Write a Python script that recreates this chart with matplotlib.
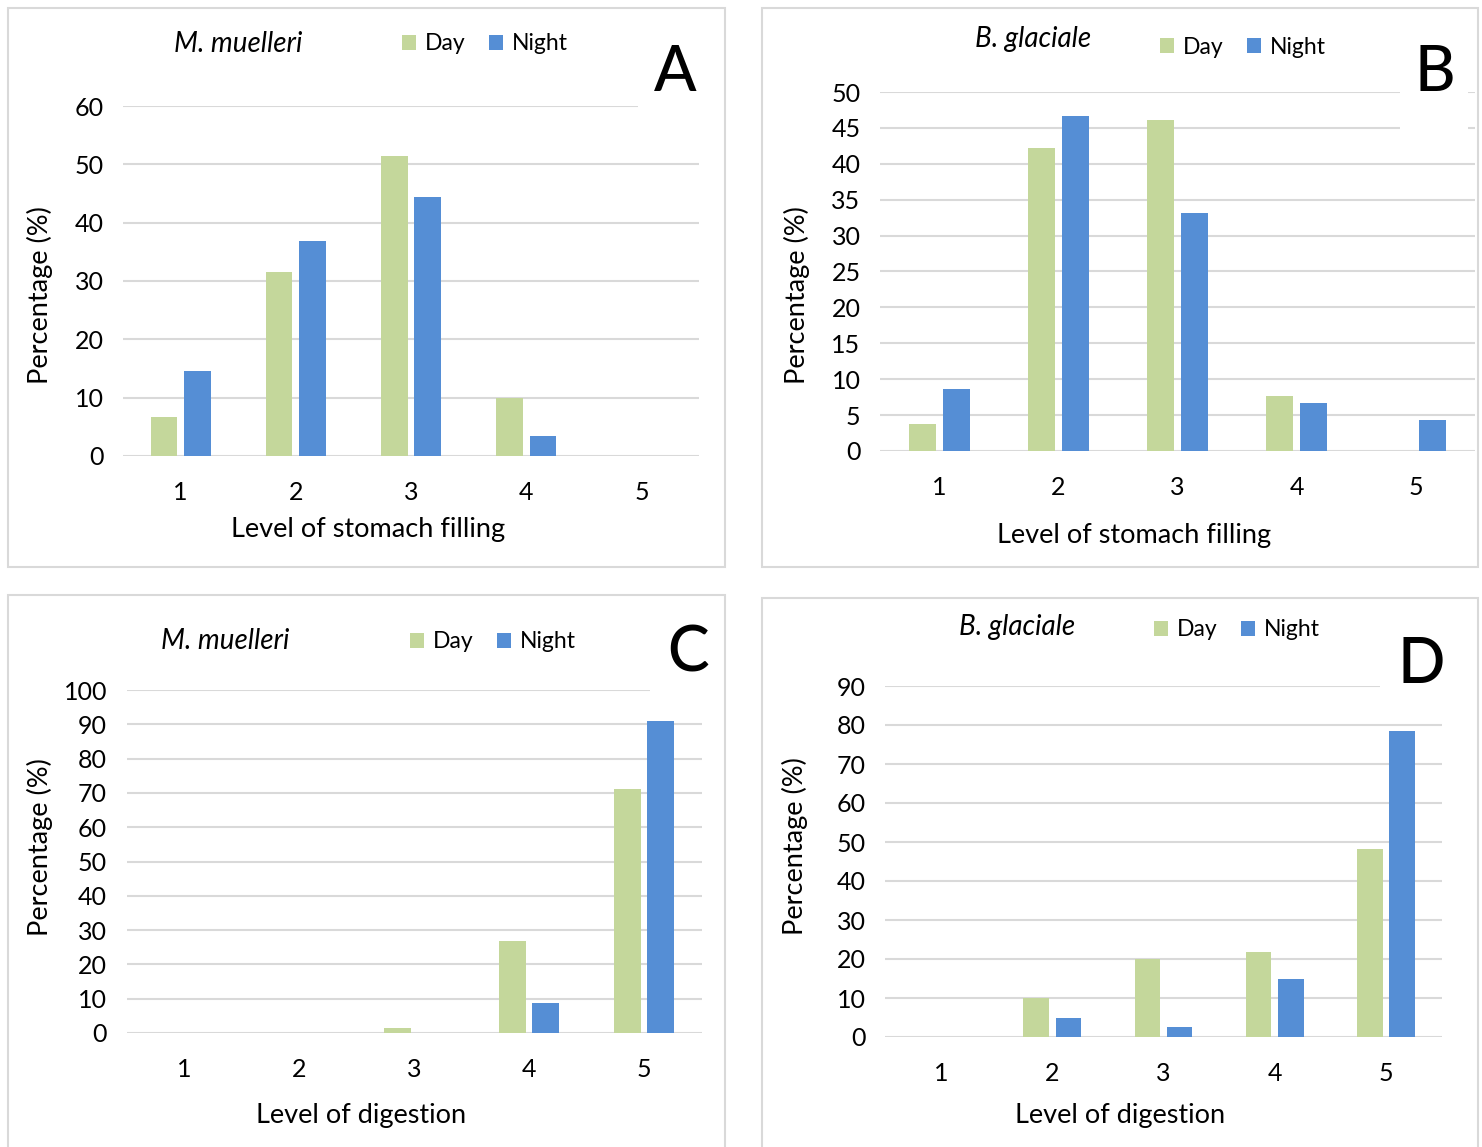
import numpy as np
import matplotlib
matplotlib.use("Agg")
import matplotlib.pyplot as plt
from matplotlib.patches import Rectangle

plt.rcParams['font.family'] = ['Lato', 'DejaVu Sans']

levels = [1, 2, 3, 4, 5]

# stomach filling, M. muelleri
fill_mm_day = [6.7, 31.6, 51.5, 9.9, 0]
fill_mm_night = [14.6, 36.9, 44.4, 3.4, 0]
# stomach filling, B. glaciale
fill_bg_day = [3.8, 42.2, 46.1, 7.7, 0]
fill_bg_night = [8.6, 46.7, 33.1, 6.7, 4.3]
# digestion, M. muelleri
dig_mm_day = [0, 0, 1.5, 26.8, 71.1]
dig_mm_night = [0, 0, 0, 8.7, 91.0]
# digestion, B. glaciale
dig_bg_day = [0, 10.0, 20.0, 21.8, 48.2]
dig_bg_night = [0, 4.9, 2.6, 14.9, 78.5]

day_col = '#C4D79B'
night_col = '#558ED5'
grid_col = '#D9D9D9'

W, H = 1482, 1147
fig = plt.figure(figsize=(W / 100, H / 100), dpi=100)


def fx(px):
    return px / W


def fy(py):
    return 1 - py / H


panels = [
    dict(box=(8, 8, 725, 567), ax=(123, 699, 106, 456), ymax=60, step=10,
         day=fill_mm_day, night=fill_mm_night, sp='M. muelleri', xl='Level of stomach filling',
         letter='A', lpos=(675, 73), cover=(638, 30, 712, 110),
         tpos=(238, 44), legpos=(485, 44), ylpos=(40, 295), xlpos=(368, 530)),
    dict(box=(762, 8, 1478, 567), ax=(880, 1475, 92, 451), ymax=50, step=5,
         day=fill_bg_day, night=fill_bg_night, sp='B. glaciale', xl='Level of stomach filling',
         letter='B', lpos=(1435, 73), cover=(1400, 30, 1468, 131),
         tpos=(1033, 39), legpos=(1243, 47), ylpos=(797, 295), xlpos=(1134, 535)),
    dict(box=(8, 595, 725, 1160), ax=(126.5, 701.5, 690, 1033), ymax=100, step=10,
         day=dig_mm_day, night=dig_mm_night, sp='M. muelleri', xl='Level of digestion',
         letter='C', lpos=(688, 653), cover=(650, 615, 712, 693),
         tpos=(225, 641), legpos=(493, 642), ylpos=(40, 847), xlpos=(361, 1115)),
    dict(box=(762, 598, 1478, 1160), ax=(885.4, 1441.6, 686, 1037), ymax=90, step=10,
         day=dig_bg_day, night=dig_bg_night, sp='B. glaciale', xl='Level of digestion',
         letter='D', lpos=(1421, 665), cover=(1380, 640, 1460, 690),
         tpos=(1017, 627), legpos=(1237, 630), ylpos=(795, 846), xlpos=(1120, 1115)),
]

x = np.array(levels)
bw = 0.23
off = 0.145

for p in panels:
    # light grey frame round each chart
    bx0, by0, bx1, by1 = p['box']
    fig.patches.append(Rectangle((fx(bx0), fy(by1)), fx(bx1 - bx0), (by1 - by0) / H,
                                 transform=fig.transFigure, facecolor='none',
                                 edgecolor=grid_col, linewidth=1.5, zorder=-1))

    x0, x1, yt, yb = p['ax']
    ax = fig.add_axes([fx(x0), fy(yb), fx(x1 - x0), (yb - yt) / H])
    ax.bar(x - off, p['day'], width=bw, color=day_col, label='Day', zorder=3)
    ax.bar(x + off, p['night'], width=bw, color=night_col, label='Night', zorder=3)
    ax.set_xlim(0.5, 5.5)
    ax.set_ylim(0, p['ymax'])
    ax.set_yticks(np.arange(0, p['ymax'] + 1, p['step']))
    ax.set_xticks(levels)
    ax.grid(axis='y', color=grid_col, linewidth=1.5, zorder=0)
    ax.set_axisbelow(True)
    for s in ax.spines.values():
        s.set_visible(False)
    ax.tick_params(axis='both', length=0, labelsize=18, colors='#000000')
    ax.tick_params(axis='y', pad=14)
    ax.tick_params(axis='x', pad=18)
    ax.patch.set_alpha(0)

    fig.text(fx(p['tpos'][0]), fy(p['tpos'][1]), p['sp'], style='italic',
             fontsize=20, ha='center', va='center')
    fig.text(fx(p['ylpos'][0]), fy(p['ylpos'][1]), 'Percentage (%)', rotation=90,
             fontsize=19.5, ha='center', va='center')
    fig.text(fx(p['xlpos'][0]), fy(p['xlpos'][1]), p['xl'],
             fontsize=19.5, ha='center', va='center')

    # white patch behind the panel letter hides the end of the top gridline
    cx0, cy0, cx1, cy1 = p['cover']
    fig.patches.append(Rectangle((fx(cx0), fy(cy1)), fx(cx1 - cx0), (cy1 - cy0) / H,
                                 transform=fig.transFigure, facecolor='white',
                                 edgecolor='none', zorder=5))
    fig.text(fx(p['lpos'][0]), fy(p['lpos'][1]), p['letter'], fontsize=45,
             fontweight='medium', ha='center', va='center', zorder=6)

    h, l = ax.get_legend_handles_labels()
    fig.legend(h, l, loc='center', bbox_to_anchor=(fx(p['legpos'][0]), fy(p['legpos'][1])),
               ncol=2, frameon=False, fontsize=16.5, handlelength=0.6, handleheight=0.6,
               handletextpad=0.4, columnspacing=1.0, borderpad=0)

fig.savefig('out.png', dpi=100, facecolor='white')
